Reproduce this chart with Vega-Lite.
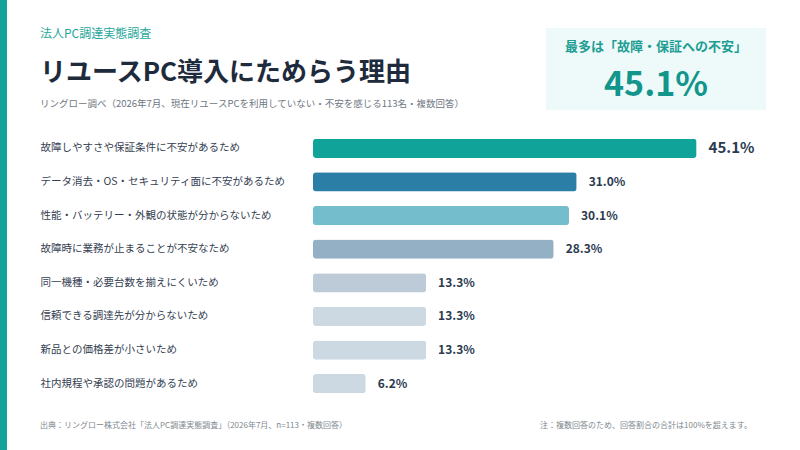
{
  "$schema": "https://vega.github.io/schema/vega-lite/v6.json",
  "background": "white",
  "padding": 0,
  "config": {
    "font": "Noto Sans CJK JP",
    "view": {"stroke": null}
  },
  "datasets": {
    "reasons": [
      {"reason": "故障しやすさや保証条件に不安があるため", "pct": 0.451},
      {"reason": "データ消去・OS・セキュリティ面に不安があるため", "pct": 0.310},
      {"reason": "性能・バッテリー・外観の状態が分からないため", "pct": 0.301},
      {"reason": "故障時に業務が止まることが不安なため", "pct": 0.283},
      {"reason": "同一機種・必要台数を揃えにくいため", "pct": 0.133},
      {"reason": "信頼できる調達先が分からないため", "pct": 0.133},
      {"reason": "新品との価格差が小さいため", "pct": 0.133},
      {"reason": "社内規程や承認の問題があるため", "pct": 0.062}
    ]
  },
  "spacing": 33,
  "hconcat": [
    {
      "width": 7,
      "height": 450,
      "view": {"fill": "#12a39a", "stroke": null},
      "data": {"values": []},
      "mark": "point"
    },
    {
      "spacing": 22,
      "vconcat": [
        {
          "width": 10,
          "height": 6,
          "data": {"values": []},
          "mark": "point"
        },
        {
          "spacing": 46,
          "hconcat": [
            {
              "spacing": 12,
              "vconcat": [
                {
                  "width": 460,
                  "height": 1,
                  "data": {"values": []},
                  "mark": "point",
                  "title": {
                    "text": "法人PC調達実態調査",
                    "subtitle": "リユースPC導入にためらう理由",
                    "orient": "bottom",
                    "anchor": "start",
                    "frame": "bounds",
                    "offset": 0,
                    "fontSize": 12,
                    "fontWeight": "normal",
                    "color": "#1fa79b",
                    "subtitleFontSize": 26,
                    "subtitleFontWeight": "bold",
                    "subtitleColor": "#1d2b3c",
                    "subtitlePadding": 19
                  }
                },
                {
                  "width": 460,
                  "height": 1,
                  "data": {"values": []},
                  "mark": "point",
                  "title": {
                    "text": "リングロー調べ（2026年7月、現在リユースPCを利用していない・不安を感じる113名・複数回答）",
                    "orient": "bottom",
                    "anchor": "start",
                    "frame": "bounds",
                    "offset": 0,
                    "fontSize": 9.5,
                    "fontWeight": "normal",
                    "color": "#6e7682"
                  }
                }
              ]
            },
            {
              "width": 220,
              "height": 82,
              "view": {"fill": "#eefafa", "stroke": null},
              "data": {"name": "reasons"},
              "transform": [
                {
                  "window": [{"op": "row_number", "as": "rk"}],
                  "sort": [{"field": "pct", "order": "descending"}]
                },
                {"filter": "datum.rk === 1"}
              ],
              "layer": [
                {
                  "mark": {"type": "text", "dy": -22, "fontSize": 13, "fontWeight": "bold", "color": "#1e9e93"},
                  "encoding": {"text": {"value": "最多は「故障・保証への不安」"}}
                },
                {
                  "mark": {"type": "text", "dy": 17, "fontSize": 34, "fontWeight": "bold", "color": "#12958b"},
                  "encoding": {"text": {"field": "pct", "type": "quantitative", "format": ".1%"}}
                }
              ]
            }
          ]
        },
        {
          "width": 728,
          "height": 268,
          "data": {"name": "reasons"},
          "encoding": {
            "y": {
              "field": "reason",
              "type": "nominal",
              "sort": null,
              "scale": {"paddingInner": 0.43, "paddingOuter": 0.2},
              "axis": {
                "title": null,
                "domain": false,
                "ticks": false,
                "tickSize": 0,
                "labelAlign": "left",
                "labelPadding": 0,
                "labelFontSize": 10.5,
                "labelColor": "#354152",
                "labelLimit": 270
              }
            },
            "x": {
              "field": "pct",
              "type": "quantitative",
              "scale": {"domain": [0, 0.535], "range": [273, 728]},
              "axis": null
            }
          },
          "layer": [
            {
              "mark": {"type": "bar", "cornerRadius": 3},
              "encoding": {
                "color": {
                  "field": "reason",
                  "type": "nominal",
                  "sort": null,
                  "legend": null,
                  "scale": {
                    "domain": [
                      "故障しやすさや保証条件に不安があるため",
                      "データ消去・OS・セキュリティ面に不安があるため",
                      "性能・バッテリー・外観の状態が分からないため",
                      "故障時に業務が止まることが不安なため",
                      "同一機種・必要台数を揃えにくいため",
                      "信頼できる調達先が分からないため",
                      "新品との価格差が小さいため",
                      "社内規程や承認の問題があるため"
                    ],
                    "range": ["#10a39a", "#2b7fa7", "#73bdcc", "#94b0c4", "#bccbd7", "#ccd9e2", "#ccd9e2", "#ccd9e2"]
                  }
                }
              }
            },
            {
              "mark": {"type": "text", "align": "left", "dx": 12, "fontWeight": "bold", "color": "#2c3a4f"},
              "encoding": {
                "text": {"field": "pct", "type": "quantitative", "format": ".1%"},
                "size": {"condition": {"test": "datum.pct > 0.4", "value": 15}, "value": 12}
              }
            }
          ]
        },
        {
          "spacing": 52,
          "hconcat": [
            {
              "width": 440,
              "height": 1,
              "data": {"values": []},
              "mark": "point",
              "title": {
                "text": "出典：リングロー株式会社「法人PC調達実態調査」（2026年7月、n=113・複数回答）",
                "anchor": "start",
                "frame": "bounds",
                "offset": 0,
                "fontSize": 8,
                "fontWeight": "normal",
                "color": "#80888f"
              }
            },
            {
              "width": 220,
              "height": 1,
              "data": {"values": []},
              "mark": "point",
              "title": {
                "text": "注：複数回答のため、回答割合の合計は100%を超えます。",
                "anchor": "end",
                "frame": "bounds",
                "offset": 0,
                "fontSize": 8,
                "fontWeight": "normal",
                "color": "#80888f"
              }
            }
          ]
        }
      ]
    }
  ]
}
